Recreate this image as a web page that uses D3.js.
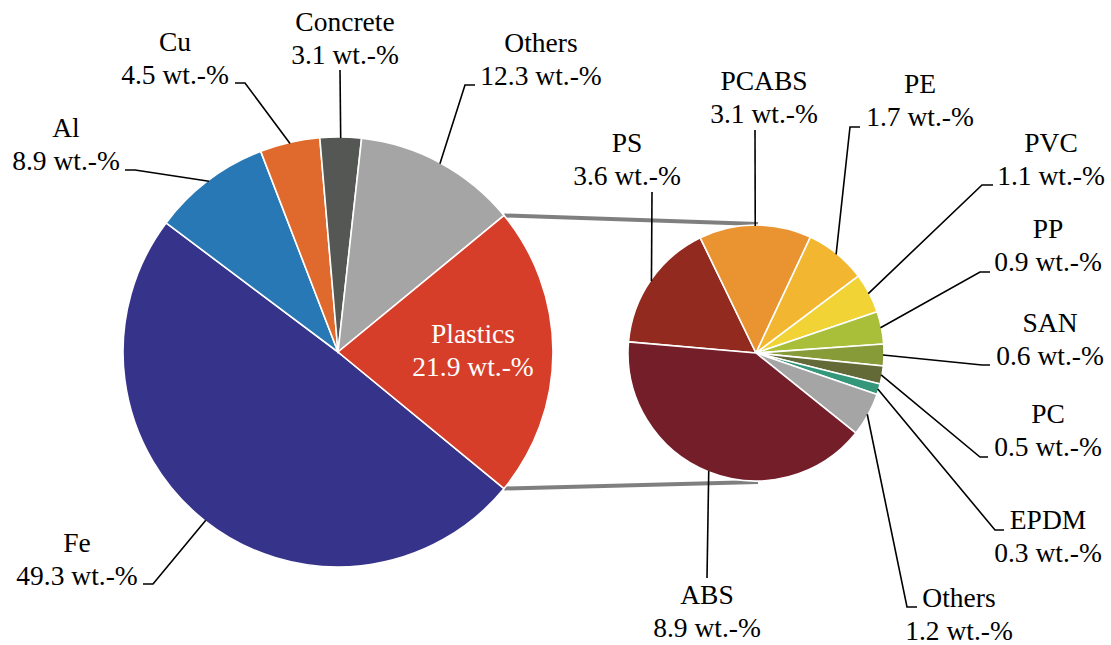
<!DOCTYPE html>
<html>
<head>
<meta charset="utf-8">
<script src="https://cdn.jsdelivr.net/npm/d3@7"></script>
<style>
  html, body { margin: 0; padding: 0; background: #fff; }
  svg { display: block; }
  text { font-family: "Liberation Serif", "Times New Roman", serif; font-size: 27.5px; }
</style>
</head>
<body>
<svg id="chart" width="1111" height="645"></svg>
<script>
// Composition of the material mix (wt.-%)
const mainCategories = ["Fe", "Al", "Cu", "Concrete", "Others", "Plastics"];
const mainValues     = [49.3, 8.9, 4.5, 3.1, 12.3, 21.9];
const mainColors     = ["#35348a", "#2878b5", "#e06a2e", "#555755", "#a5a5a5", "#d63e29"];

// Breakdown of the plastics fraction (wt.-%)
const plasticCategories = ["PS", "PCABS", "PE", "PVC", "PP", "SAN", "PC", "EPDM", "Others", "ABS"];
const plasticValues     = [3.6, 3.1, 1.7, 1.1, 0.9, 0.6, 0.5, 0.3, 1.2, 8.9];
const plasticColors     = ["#922a1f", "#e99430", "#f2b631", "#f1d335", "#a9bf3a", "#879b38",
                           "#636a37", "#35977a", "#a5a5a5", "#741e29"];

const unit = " wt.-%";
const fmt = d3.format(".1f");
const deg = Math.PI / 180;

const svg = d3.select("#chart");

// Geometry
const main = { cx: 338, cy: 352, r: 215 };
const sub  = { cx: 756, cy: 353, r: 128 };

// The plastics slice is centred on the right-hand side of the main pie
const plasticsShare = mainValues[5] / d3.sum(mainValues) * 360;
const mainStart = (90 + plasticsShare / 2) * deg;
// The breakdown pie starts with PS just left of the top
const subStart = -85 * deg;

const mainPie = d3.pie().sort(null).value(d => d.value)
  .startAngle(mainStart).endAngle(mainStart + 2 * Math.PI);
const subPie = d3.pie().sort(null).value(d => d.value)
  .startAngle(subStart).endAngle(subStart + 2 * Math.PI);

const mainData = mainPie(mainCategories.map((c, i) => ({ name: c, value: mainValues[i], color: mainColors[i] })));
const subData  = subPie(plasticCategories.map((c, i) => ({ name: c, value: plasticValues[i], color: plasticColors[i] })));

const pointAt = (g, a, r) => [g.cx + r * Math.sin(a), g.cy - r * Math.cos(a)];

// Connector lines between the plastics slice and the breakdown pie
const plastics = mainData[5];
const connectors = [
  [pointAt(main, plastics.startAngle, main.r), [sub.cx + 2, sub.cy - sub.r - 1]],
  [pointAt(main, plastics.endAngle, main.r),   [sub.cx + 2, sub.cy + sub.r + 1]]
];
svg.append("g").selectAll("line").data(connectors).join("line")
  .attr("x1", d => d[0][0]).attr("y1", d => d[0][1])
  .attr("x2", d => d[1][0]).attr("y2", d => d[1][1])
  .attr("stroke", "#7f7f7f").attr("stroke-width", 4);

// Pies
function drawPie(geo, data) {
  const arc = d3.arc().innerRadius(0).outerRadius(geo.r);
  svg.append("g").attr("transform", `translate(${geo.cx},${geo.cy})`)
    .selectAll("path").data(data).join("path")
    .attr("d", arc)
    .attr("fill", d => d.data.color)
    .attr("stroke", "#fff").attr("stroke-width", 1.6);
}
drawPie(main, mainData);
drawPie(sub, subData);

// Label placement: elbow of the leader, end of its horizontal run, text centre and baseline
const mainLabelLayout = {
  "Fe":       { elbow: [153, 584], end: [143, 584], x: 77,  y: 552 },
  "Al":       { elbow: [135, 170], end: [125, 170], x: 66,  y: 137 },
  "Cu":       { elbow: [245, 83],  end: [235, 83],  x: 175, y: 51 },
  "Concrete": { elbow: null,       end: [340, 70],  x: 345, y: 31 },
  "Others":   { elbow: [465, 85],  end: [475, 85],  x: 541, y: 52 },
  "Plastics": { inside: true,                        x: 473, y: 343 }
};
const subLabelLayout = {
  "PS":     { elbow: null,       end: [652, 192],  x: 627,  y: 152 },
  "PCABS":  { elbow: null,       end: [755, 130],  x: 764,  y: 90 },
  "PE":     { elbow: [850, 127], end: [860, 127],  x: 920,  y: 93 },
  "PVC":    { elbow: [982, 185], end: [993, 185],  x: 1051, y: 152 },
  "PP":     { elbow: [980, 272], end: [990, 272],  x: 1048, y: 238 },
  "SAN":    { elbow: [982, 365], end: [990, 365],  x: 1050, y: 332 },
  "PC":     { elbow: [980, 457], end: [988, 457],  x: 1048, y: 423 },
  "EPDM":   { elbow: [995, 530], end: [1004, 530], x: 1048, y: 529 },
  "Others": { elbow: [907, 607], end: [917, 607],  x: 959,  y: 607 },
  "ABS":    { elbow: null,       end: [707, 578],  x: 707,  y: 604 }
};

const lineGap = 33;

function drawLabels(geo, data, layout) {
  const g = svg.append("g");
  data.forEach(d => {
    const L = layout[d.data.name];
    const mid = (d.startAngle + d.endAngle) / 2;
    if (!L.inside) {
      const start = pointAt(geo, mid, geo.r - 1);
      const pts = [start];
      if (L.elbow) pts.push(L.elbow);
      pts.push(L.end);
      g.append("polyline")
        .attr("points", pts.map(p => p.join(",")).join(" "))
        .attr("fill", "none").attr("stroke", "#000").attr("stroke-width", 1.6);
    }
    const t = g.append("text")
      .attr("text-anchor", "middle")
      .attr("fill", L.inside ? "#fff" : "#000");
    t.append("tspan").attr("x", L.x).attr("y", L.y).text(d.data.name);
    t.append("tspan").attr("x", L.x).attr("y", L.y + lineGap).text(fmt(d.data.value) + unit);
  });
}
drawLabels(main, mainData, mainLabelLayout);
drawLabels(sub, subData, subLabelLayout);
</script>
</body>
</html>
